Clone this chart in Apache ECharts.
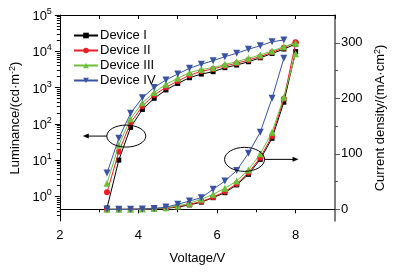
<!DOCTYPE html>
<html><head><meta charset="utf-8">
<script src="https://cdn.jsdelivr.net/npm/echarts@6/dist/echarts.min.js"></script>
<style>html,body{margin:0;padding:0;background:#fff}#c{width:395px;height:274px}</style>
</head><body><div id="c"></div>
<script>
// ---- data ----
const voltage = [3.2,3.5,3.8,4.1,4.4,4.7,5.0,5.3,5.6,5.9,6.2,6.5,6.8,7.1,7.4,7.7,8.0];
const deviceNames = ['Device I','Device II','Device III','Device IV'];
// luminance (cd/m2)
const lumI   = [0.48,10,80,250,505,860,1300,1870,2350,2740,3540,4170,5150,6620,8700,11500,15800];
const lumII  = [1.3,17,107,310,620,1020,1510,2180,2800,3250,3960,4660,5750,7100,9400,12600,17700];
const lumIII = [2.3,26,138,380,730,1230,1810,2570,3150,3540,4360,5150,6400,7900,10200,13400,16600];
const lumIV  = [4.4,40,195,525,1010,1620,2360,3400,4400,5500,7100,8800,11400,14200,18300,20500];
// current density (mA/cm2)
const curI   = [0,0,0,0.5,1,2,4,8,13,21,30,44,63,90,128,193,284];
const curII  = [0,0,0,0.5,1,2,5,9,14,22,32,46,66,93,132,199,300];
const curIII = [0,0,0,0.5,1.5,3,6,11,18,27,38,51,71,100,139,202,280];
const curIV  = [0,0,0,0.5,1.5,4,9,15,21,36,51,70,101,139,200,272];
// ticks
const xMajorTicks = [2,4,6,8];
const xMinorTicks = [3,5,7];
const lumMajorTicks = [1,10,100,1000,10000,100000];
const lumMinorTicks = [0.3,0.4,0.5,0.6,0.7,0.8,0.9,2,3,4,5,6,7,8,9,20,30,40,50,60,70,80,90,200,300,400,500,600,700,800,900,2000,3000,4000,5000,6000,7000,8000,9000,20000,30000,40000,50000,60000,70000,80000,90000];
const curMajorTicks = [0,100,200,300];
const curMinorTicks = [50,150,250];
// annotation anchors (data space)
const ellipseLum = [3.69, 46];
const ellipseCur = [6.7, 90];

const colors = ['#000000','#ee1c24','#6cc13c','#3953a4'];
const symbols = ['rect','circle','triangle','path://M0,0L10,0L5,9Z'];
const symbolSizes = [5,6,7,7];
const lums = [lumI,lumII,lumIII,lumIV];
const curs = [curI,curII,curIII,curIV];

const FONT = 'Liberation Sans, Arial, sans-serif';
const pair = arr => arr.map((v,i)=>[voltage[i], v]);

const chart = echarts.init(document.getElementById('c'), null, {renderer:'canvas'});
const series = [];
deviceNames.forEach((n,i)=>{
  series.push({name:n,type:'line',xAxisIndex:0,yAxisIndex:0,data:pair(lums[i]),
    symbol:symbols[i],symbolSize:symbolSizes[i],showAllSymbol:true,
    lineStyle:{width:1,color:colors[i]},itemStyle:{color:colors[i]},animation:false,z:2+i});
});
deviceNames.forEach((n,i)=>{
  series.push({name:n,type:'line',xAxisIndex:0,yAxisIndex:2,data:pair(curs[i]),
    symbol:symbols[i],symbolSize:symbolSizes[i],showAllSymbol:true,
    lineStyle:{width:1,color:colors[i]},itemStyle:{color:colors[i]},animation:false,z:2+i});
});

const grid = {left:55,right:60,top:15,bottom:53};
const lumMin = 0.21, lumMax = 100000, curMin = -21, curMax = 350;

chart.setOption({
  animation:false,
  textStyle:{fontFamily:FONT},
  grid:grid,
  legend:{data:deviceNames,orient:'vertical',left:68,top:24,itemGap:2,itemWidth:24,itemHeight:7,
    textStyle:{fontSize:13,color:'#000',fontFamily:FONT,padding:[0,0,0,-3]}},
  xAxis:[
    {type:'value',position:'bottom',min:2,max:9,interval:1,
     axisLine:{lineStyle:{color:'#000',width:1}},
     axisTick:{customValues:xMajorTicks,length:4,lineStyle:{color:'#000'}},
     axisLabel:{customValues:xMajorTicks,fontSize:13,color:'#000',margin:8,fontFamily:FONT},
     splitLine:{show:false},
     name:'Voltage/V',nameLocation:'middle',nameGap:31,nameTextStyle:{fontSize:13,color:'#000',fontFamily:FONT}},
    {type:'value',position:'bottom',min:2,max:9,interval:1,
     axisLine:{show:false},
     axisTick:{customValues:xMinorTicks,length:3,lineStyle:{color:'#000'}},
     axisLabel:{show:false},splitLine:{show:false}},
    {type:'value',position:'top',min:2,max:9,interval:1,
     axisLine:{lineStyle:{color:'#000',width:1}},
     axisTick:{inside:true,length:4,lineStyle:{color:'#000'}},
     axisLabel:{show:false},splitLine:{show:false}}
  ],
  yAxis:[
    {type:'log',logBase:10,position:'left',min:lumMin,max:lumMax,
     axisLine:{show:true,lineStyle:{color:'#000',width:1}},
     axisTick:{customValues:lumMajorTicks,length:5,lineStyle:{color:'#000'}},
     axisLabel:{customValues:lumMajorTicks,margin:8,color:'#000',fontFamily:FONT,
       formatter:v=>'{b|10}{s|'+Math.round(Math.log10(v))+'}',
       rich:{b:{fontSize:13,color:'#000',fontFamily:FONT,lineHeight:16,verticalAlign:'bottom'},
             s:{fontSize:9,color:'#000',fontFamily:FONT,lineHeight:16,verticalAlign:'top'}}},
     splitLine:{show:false},
     name:'Luminance/(cd·m{s|-2})',nameLocation:'middle',nameGap:28,
     nameTextStyle:{fontSize:13,color:'#000',fontFamily:FONT,
       rich:{s:{fontSize:9,color:'#000',fontFamily:FONT,verticalAlign:'top',lineHeight:14}}}},
    {type:'log',logBase:10,position:'left',min:lumMin,max:lumMax,
     axisLine:{show:false},
     axisTick:{customValues:lumMinorTicks,length:3,lineStyle:{color:'#000'}},
     axisLabel:{show:false},splitLine:{show:false}},
    {type:'value',position:'right',min:curMin,max:curMax,
     axisLine:{show:true,lineStyle:{color:'#555',width:1.5}},
     axisTick:{customValues:curMajorTicks,length:5,lineStyle:{color:'#555'}},
     axisLabel:{customValues:curMajorTicks,margin:6,fontSize:13,color:'#000',fontFamily:FONT},
     splitLine:{show:false},
     name:'Current density/(mA·cm{s|2})',nameLocation:'middle',nameGap:38,
     nameTextStyle:{fontSize:13,color:'#000',fontFamily:FONT,
       rich:{s:{fontSize:9,color:'#000',fontFamily:FONT,verticalAlign:'top',lineHeight:14}}}},
    {type:'value',position:'right',min:curMin,max:curMax,
     axisLine:{show:false},
     axisTick:{customValues:curMinorTicks,length:3,lineStyle:{color:'#555'}},
     axisLabel:{show:false},splitLine:{show:false}}
  ],
  series:series
});

// annotations: ellipses with arrows, anchored through the axes' scales
const p1 = chart.convertToPixel({xAxisIndex:0,yAxisIndex:0}, ellipseLum);
const p2 = chart.convertToPixel({xAxisIndex:0,yAxisIndex:2}, ellipseCur);
const rx1=19.5, ry1=11, rx2=20, ry2=12;
const stroke = {stroke:'#000',lineWidth:1,fill:null};
chart.setOption({graphic:[
  {type:'ellipse',shape:{cx:p1[0],cy:p1[1],rx:rx1,ry:ry1},style:stroke,z:100},
  {type:'line',shape:{x1:p1[0]-rx1,y1:p1[1],x2:p1[0]-rx1-20,y2:p1[1]},style:{stroke:'#000',lineWidth:1},z:100},
  {type:'polygon',shape:{points:[[p1[0]-rx1-24,p1[1]],[p1[0]-rx1-18,p1[1]-2.5],[p1[0]-rx1-18,p1[1]+2.5]]},style:{fill:'#000'},z:100},
  {type:'ellipse',shape:{cx:p2[0],cy:p2[1],rx:rx2,ry:ry2},style:stroke,z:100},
  {type:'line',shape:{x1:p2[0]+rx2,y1:p2[1],x2:p2[0]+rx2+30,y2:p2[1]},style:{stroke:'#000',lineWidth:1},z:100},
  {type:'polygon',shape:{points:[[p2[0]+rx2+34,p2[1]],[p2[0]+rx2+28,p2[1]-2.5],[p2[0]+rx2+28,p2[1]+2.5]]},style:{fill:'#000'},z:100}
]});
</script></body></html>
